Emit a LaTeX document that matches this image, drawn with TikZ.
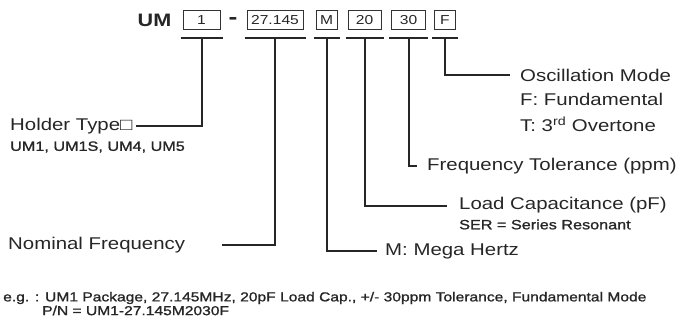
\documentclass[tikz,border=0pt]{standalone}
\usepackage{fontspec}
\setmainfont{Liberation Sans}[FakeStretch=1.2]
\newfontfamily\subfont{Liberation Sans}[FakeStretch=1.2, FakeBold=1.2]
\usetikzlibrary{calc}

\begin{document}
\begin{tikzpicture}[x=1pt, y=-1pt,
    partbox/.style={draw=black!80, line width=1pt, inner sep=1pt, minimum height=18.5pt, text=black!85, font=\fontsize{13}{14}\selectfont},
    desc/.style={anchor=west, inner sep=1pt, text=black!85, font=\fontsize{17}{19}\selectfont},
    subdesc/.style={anchor=west, inner sep=1pt, text=black!85, font=\subfont\fontsize{13.5}{15}\selectfont},
    note/.style={anchor=west, inner sep=0pt, text=black!85, font=\subfont\fontsize{13}{14}\selectfont},
    uline/.style={line width=2.5pt, black!85},
    lead/.style={line width=2pt, black!85}
  ]
  \useasboundingbox (0,0) rectangle (682,327);

  % part number fields
  \node[font=\fontsize{18}{18}\selectfont\bfseries, text=black!85, inner sep=0pt] (um) at (154.5,20) {UM};
  \node[partbox, minimum width=37pt] (b1) at (201.5,20) {1};
  \node[font=\fontsize{22}{22}\selectfont\bfseries, text=black!85, inner sep=0pt] (dash) at (233,20.5) {-};
  \node[partbox, minimum width=56pt] (b2) at (275,20) {27.145};
  \node[partbox, minimum width=21pt] (b3) at (326.5,20) {M};
  \node[partbox, minimum width=33pt] (b4) at (364.5,20) {20};
  \node[partbox, minimum width=34pt] (b5) at (408.5,20) {30};
  \node[partbox, minimum width=21pt] (b6) at (445,20) {F};

  \foreach \b in {b1,b2,b3,b4,b5,b6}{
    \draw[uline] ($(\b.south west)+(-2,8)$) -- ($(\b.south east)+(2,8)$);
    \coordinate (\b u) at ($(\b.south)+(0,8)$);
  }

  % descriptions
  \node[desc] (holder) at (9,126) {Holder Type□};
  \node[subdesc] (holdersub) at (9,147) {UM1, UM1S, UM4, UM5};
  \node[desc] (nominal) at (7,245) {Nominal Frequency};
  \node[desc] (mega) at (384,251) {M: Mega Hertz};
  \node[desc] (load) at (458,205.5) {Load Capacitance (pF)};
  \node[subdesc] (ser) at (458,224.5) {SER = Series Resonant};
  \node[desc] (tol) at (426,166) {Frequency Tolerance (ppm)};
  \node[desc] (osc) at (519,75) {Oscillation Mode};
  \node[desc] (fund) at (519,99.5) {F: Fundamental};
  \node[desc] (over) at (519,124) {T: 3\textsuperscript{rd} Overtone};

  % leaders
  \draw[lead, shorten >=2pt] (b1u) |- (holder.east);
  \draw[lead, shorten >=36pt] (b2u) |- (nominal.east);
  \draw[lead, shorten >=7pt] (b3u) |- (mega.west);
  \draw[lead, shorten >=11pt] (b4u) |- (load.west);
  \draw[lead, shorten >=9pt] (b5u) |- (tol.west);
  \draw[lead, shorten >=9pt] (b6u) |- (osc.west);

  % example
  \node[note] (example) at (3,298) {e.g. : UM1 Package, 27.145MHz, 20pF Load Cap., +/- 30ppm Tolerance, Fundamental Mode};
  \node[note] (partno) at (42,310.5) {P/N = UM1-27.145M2030F};
\end{tikzpicture}
\end{document}
